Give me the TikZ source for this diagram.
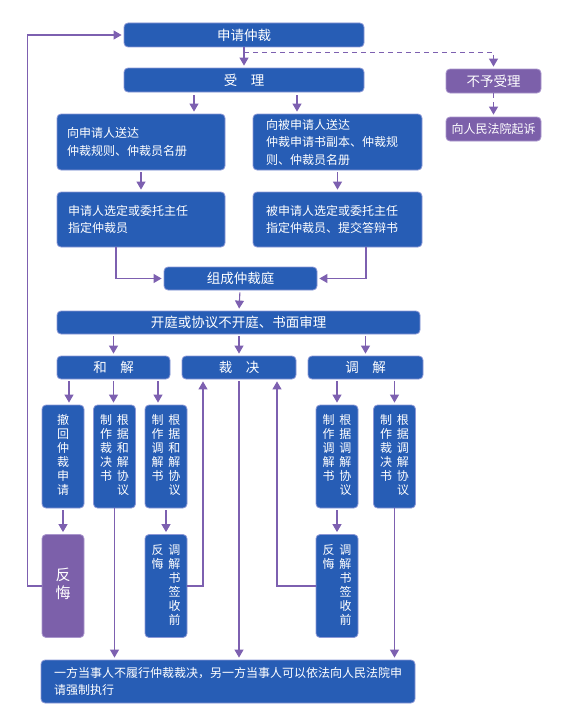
\documentclass[tikz,border=0pt]{standalone}
\usepackage{fontspec}
\setmainfont{Noto Sans CJK SC}
\usetikzlibrary{arrows.meta,positioning}

\definecolor{boxblue}{RGB}{39,93,181}
\definecolor{boxedge}{RGB}{140,152,214}
\definecolor{boxpurple}{RGB}{124,96,170}
\definecolor{pedge}{RGB}{170,150,205}
\definecolor{linepurple}{RGB}{125,96,176}

\newcommand{\colone}[1]{\begin{tabular}{@{}c@{}}#1\end{tabular}}
\newcommand{\coltwo}[1]{\begin{tabular}{@{}c@{\hspace{5pt}}c@{}}#1\end{tabular}}

\tikzset{
  blk/.style={draw=boxedge, line width=0.8pt, fill=boxblue, rounded corners=4pt,
    text=white, inner sep=0pt, font=\fontsize{12}{17.5}\selectfont},
  ttl/.style={blk, font=\fontsize{13.5}{15}\selectfont},
  pbk/.style={fill=boxpurple, draw=pedge},
  vblk/.style={blk, minimum width=42, minimum height=103, font=\fontsize{12}{13}\selectfont},
  arr/.style={draw=linepurple, line width=1.1pt, -{Triangle[length=8pt,width=9pt]}, shorten >=2pt},
  dsh/.style={arr, dash pattern=on 5pt off 4pt},
}

\begin{document}
\begin{tikzpicture}[x=1pt,y=-1pt]
  \useasboundingbox (0,0) rectangle (566,717);

  \node[ttl, minimum width=240, minimum height=24] (sq) at (244,35) {申请仲裁};
  \node[ttl, minimum width=240, minimum height=24] (sl) at (244,80) {受　理};
  \node[ttl, pbk, minimum width=95, minimum height=24] (byl) at (493.5,81) {不予受理};
  \node[blk, pbk, minimum width=95, minimum height=24] (qs) at (493.5,129) {向人民法院起诉};

  \node[blk, align=left, inner xsep=10, text width=148, minimum height=56] (sd1) at (141,142) {向申请人送达\\仲裁规则、仲裁员名册};
  \node[blk, align=left, inner xsep=13, text width=143, minimum height=56] (sd2) at (337.5,142) {向被申请人送达\\仲裁申请书副本、仲裁规\\则、仲裁员名册};
  \node[blk, align=left, inner xsep=11, text width=146, minimum height=55] (xd1) at (141,219.5) {申请人选定或委托主任\\指定仲裁员};
  \node[blk, align=left, inner xsep=13, text width=143, minimum height=55] (xd2) at (337.5,219.5) {被申请人选定或委托主任\\指定仲裁员、提交答辩书};

  \node[ttl, minimum width=153, minimum height=23] (zc) at (240.5,278.5) {组成仲裁庭};
  \node[ttl, minimum width=363, minimum height=23] (kt) at (238.5,322.5) {开庭或协议不开庭、书面审理};

  \node[ttl, minimum width=113, minimum height=23] (hj) at (113.5,367.5) {和　解};
  \node[ttl, minimum width=114, minimum height=23] (cj) at (239,367.5) {裁　决};
  \node[ttl, minimum width=115, minimum height=23] (tj) at (365.5,367.5) {调　解};

  \node[vblk] (ch) at (63,456.5) {\colone{撤\\回\\仲\\裁\\申\\请}};
  \node[vblk] (h1) at (114.5,456.5) {\coltwo{制&根\\作&据\\裁&和\\决&解\\书&协\\&议}};
  \node[vblk] (h2) at (166,456.5) {\coltwo{制&根\\作&据\\调&和\\解&解\\书&协\\&议}};
  \node[vblk] (t1) at (337,456.5) {\coltwo{制&根\\作&据\\调&调\\解&解\\书&协\\&议}};
  \node[vblk] (t2) at (394.5,456.5) {\coltwo{制&根\\作&据\\裁&调\\决&解\\书&协\\&议}};

  \node[vblk, pbk, font=\fontsize{15}{18}\selectfont] (fh0) at (63,586) {\colone{反\\悔}};
  \node[vblk] (fh1) at (166,586) {\coltwo{反&调\\悔&解\\&书\\&签\\&收\\&前}};
  \node[vblk] (fh2) at (337,586) {\coltwo{反&调\\悔&解\\&书\\&签\\&收\\&前}};

  \node[blk, align=left, inner xsep=13, text width=348, minimum height=43] (zx) at (228,681.5) {一方当事人不履行仲裁裁决，另一方当事人可以依法向人民法院申\\请强制执行};

  \draw[arr] (sq.south) -- (sl.north);
  \draw[dsh] ([yshift=-5]sq.south) -| (byl.north);
  \draw[dsh] (byl) -- (qs);
  \draw[arr, shorten <=3pt] ([xshift=-50]sl.south) -- ([xshift=-50]sl.south |- sd1.north);
  \draw[arr, shorten <=3pt] ([xshift=53]sl.south) -- ([xshift=53]sl.south |- sd2.north);
  \draw[arr, shorten <=2pt] (sd1) -- (xd1);
  \draw[arr, shorten <=2pt] (sd2) -- (xd2);
  \draw[arr] ([xshift=-25]xd1.south) |- (zc.west);
  \draw[arr] ([xshift=28.5]xd2.south) |- (zc.east);
  \draw[arr, shorten <=2pt] (zc) -- (kt);
  \draw[arr, shorten <=2pt] (kt.south -| hj.north) -- (hj.north);
  \draw[arr, shorten <=2pt] (kt.south -| cj.north) -- (cj.north);
  \draw[arr, shorten <=2pt] (kt.south -| tj.north) -- (tj.north);

  \draw[arr, shorten <=2pt] ([xshift=-44.5]hj.south) -- ([xshift=-44.5]hj.south |- ch.north);
  \draw[arr, shorten <=2pt] (hj.south) -- (hj.south |- h1.north);
  \draw[arr, shorten <=2pt] ([xshift=44.5]hj.south) -- ([xshift=44.5]hj.south |- h2.north);
  \draw[arr, shorten <=2pt] (tj.south -| t1.north) -- (t1.north);
  \draw[arr, shorten <=2pt] (tj.south -| t2.north) -- (t2.north);
  \draw[arr, shorten <=2pt] (ch) -- (fh0);
  \draw[arr, shorten <=2pt] (h2) -- (fh1);
  \draw[arr, shorten <=2pt] (t1) -- (fh2);

  \draw[arr] (h1.south) -- (h1.south |- zx.north);
  \draw[arr, shorten <=2pt] (cj.south) -- (cj.south |- zx.north);
  \draw[arr] (t2.south) -- (t2.south |- zx.north);

  \draw[arr] (fh0.west) -- ++(-14,0) |- (sq.west);
  \draw[arr] (fh1.east) -| ([xshift=-36]cj.south);
  \draw[arr] (fh2.west) -| ([xshift=38]cj.south);
\end{tikzpicture}
\end{document}
